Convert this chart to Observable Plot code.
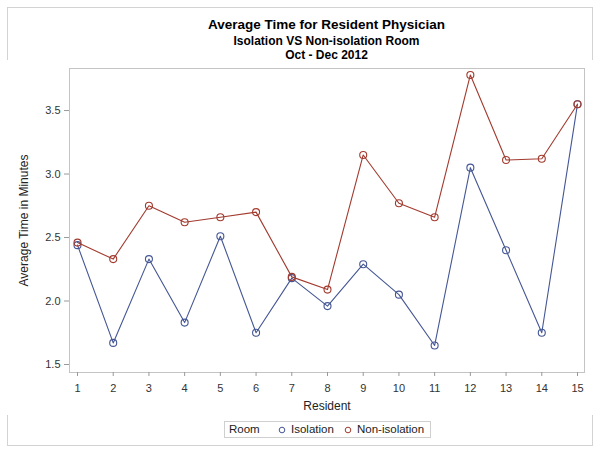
<!DOCTYPE html>
<html>
<head>
<meta charset="utf-8">
<script src="https://cdn.jsdelivr.net/npm/d3@7"></script>
<script src="https://cdn.jsdelivr.net/npm/@observablehq/plot@0.6"></script>
<style>
  html, body { margin: 0; padding: 0; background: #fff; }
  body { font-family: "Liberation Sans", Arial, sans-serif; }
  #wrap { position: relative; width: 602px; height: 455px; overflow: hidden; }
  #border { position: absolute; left: 7px; top: 7px; width: 586px; height: 439px; border: 1px solid #d3d3d3; box-sizing: border-box; }
  .t { position: absolute; left: 69px; width: 515px; text-align: center; font-weight: bold; color: #000; white-space: nowrap; }
  #chart { position: absolute; left: 0; top: 60px; }
  #legend { position: absolute; left: 224px; top: 421px; width: 207px; height: 17px; border: 1px solid #cfcfcf; box-sizing: border-box; font-size: 11.5px; color: #222; }
  #legend span { position: absolute; top: 1px; white-space: nowrap; }
  #legend svg { position: absolute; top: 4px; }
</style>
</head>
<body>
<div id="wrap">
  <div id="border"></div>
  <div class="t" style="top:17px;font-size:13.5px;">Average Time for Resident Physician</div>
  <div class="t" style="top:34px;font-size:12px;">Isolation VS Non-isolation Room</div>
  <div class="t" style="top:48px;font-size:12px;">Oct - Dec 2012</div>
  <div id="chart"></div>
  <div id="legend"></div>
</div>
<script>
const residents = [1, 2, 3, 4, 5, 6, 7, 8, 9, 10, 11, 12, 13, 14, 15];
const isolation = [2.44, 1.67, 2.33, 1.83, 2.51, 1.75, 2.18, 1.96, 2.29, 2.05, 1.65, 3.05, 2.40, 1.75, 3.55];
const nonIsolation = [2.46, 2.33, 2.75, 2.62, 2.66, 2.70, 2.19, 2.09, 3.15, 2.77, 2.66, 3.78, 3.11, 3.12, 3.55];
const seriesNames = ["Isolation", "Non-isolation"];
const seriesColors = ["#445694", "#A23A2E"];
const yTicks = [1.5, 2.0, 2.5, 3.0, 3.5];

const data = [];
residents.forEach((r, i) => {
  data.push({resident: r, time: isolation[i], room: seriesNames[0]});
  data.push({resident: r, time: nonIsolation[i], room: seriesNames[1]});
});

const chart = Plot.plot({
  width: 602,
  height: 355,
  marginTop: 8,
  marginLeft: 69,
  marginRight: 18,
  marginBottom: 43,
  style: { fontFamily: "'Liberation Sans', Arial, sans-serif", fontSize: "11px", color: "#333", background: "#fff" },
  x: { domain: [0.776, 15.196] },
  y: { domain: [1.437, 3.831] },
  color: { domain: seriesNames, range: seriesColors },
  marks: [
    Plot.frame({ stroke: "#c4c4c4" }),
    Plot.axisX({ ticks: residents, tickFormat: d3.format("d"), tickSize: 4, tickPadding: 8, stroke: "#999",
      label: "Resident", labelAnchor: "center", labelArrow: "none", labelOffset: 37, fontSize: 11 }),
    Plot.axisY({ ticks: yTicks, tickFormat: d3.format(".1f"), tickSize: 5, tickPadding: 4, stroke: "#999",
      label: "Average Time in Minutes", labelAnchor: "center", labelArrow: "none", labelOffset: 50, fontSize: 11 }),
    Plot.line(data, { x: "resident", y: "time", stroke: "room", strokeWidth: 1.1 }),
    Plot.dot(data, { x: "resident", y: "time", stroke: "room", r: 3.5, fill: "none", strokeWidth: 1.1 })
  ]
});
chart.querySelectorAll("[aria-label='x-axis label'] text, [aria-label='y-axis label'] text").forEach(t => {
  t.style.fontSize = "12px"; t.setAttribute("fill", "#222");
});
document.getElementById("chart").appendChild(chart);

// Legend
const legend = document.getElementById("legend");
const items = [
  { text: "Room", left: 4 },
  { marker: 0, left: 53 },
  { text: seriesNames[0], left: 66 },
  { marker: 1, left: 119 },
  { text: seriesNames[1], left: 132 }
];
items.forEach(it => {
  if (it.text) {
    const s = document.createElement("span");
    s.textContent = it.text; s.style.left = it.left + "px";
    legend.appendChild(s);
  } else {
    const ns = "http://www.w3.org/2000/svg";
    const svg = document.createElementNS(ns, "svg");
    svg.setAttribute("width", 8); svg.setAttribute("height", 8);
    svg.style.left = it.left + "px";
    const c = document.createElementNS(ns, "circle");
    c.setAttribute("cx", 4); c.setAttribute("cy", 4); c.setAttribute("r", 2.8);
    c.setAttribute("fill", "none"); c.setAttribute("stroke", seriesColors[it.marker]);
    svg.appendChild(c);
    legend.appendChild(svg);
  }
});
</script>
</body>
</html>
